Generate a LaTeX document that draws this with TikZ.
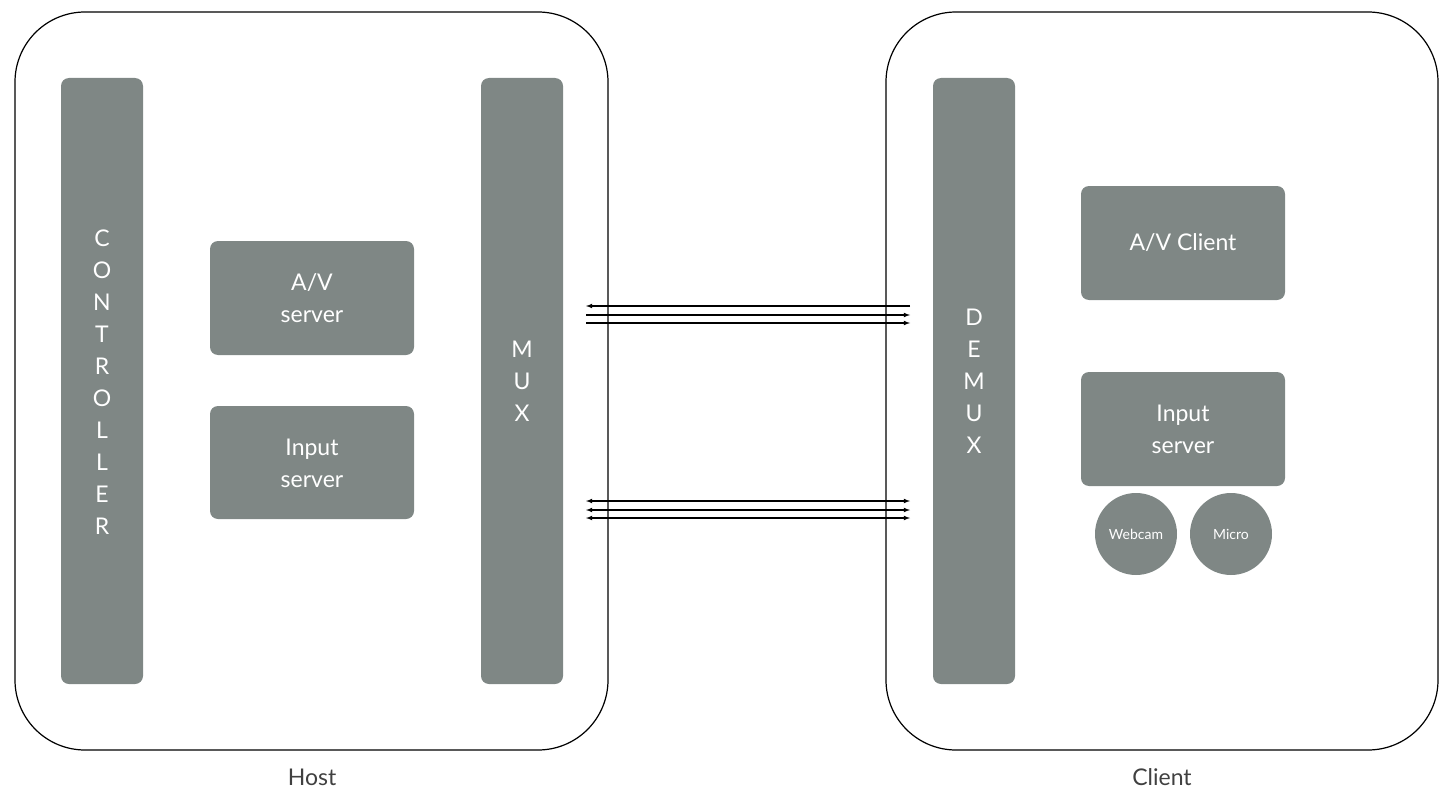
\documentclass[tikz,border=0pt]{standalone}
\usepackage{fontspec}
\setmainfont{Lato}
\begin{document}
\begin{tikzpicture}[x=1pt,y=-1pt,
  cont/.style={draw=black,line width=1.2pt,rounded corners=70pt},
  blk/.style={fill=gbox,draw=none,rounded corners=8pt},
  lbl/.style={text=white,font=\fontsize{23}{32}\selectfont,align=center},
  arr/.style={line width=1.1pt,-latex}]
\definecolor{gbox}{HTML}{7F8785}
\useasboundingbox (0,0) rectangle (1452,800);
\draw[cont] (15,12) rectangle (608,750);
\draw[cont] (886,12) rectangle (1438,750);
\fill[blk] (61,78) rectangle (143,684);
\fill[blk] (481,78) rectangle (563,684);
\fill[blk] (933,78) rectangle (1015,684);
\fill[blk] (210,241) rectangle (414,355);
\fill[blk] (210,406) rectangle (414,519);
\fill[blk] (1081,186) rectangle (1285,300);
\fill[blk] (1081,372) rectangle (1285,486);
\node[fill=gbox,circle,minimum size=82pt,inner sep=0pt,text=white,font=\fontsize{14}{16}\selectfont] (webcam) at (1136,534) {Webcam};
\node[fill=gbox,circle,minimum size=82pt,inner sep=0pt,text=white,font=\fontsize{14}{16}\selectfont] (micro) at (1231,534) {Micro};
\node[lbl] (ctrl) at (102,382) {C\\O\\N\\T\\R\\O\\L\\L\\E\\R};
\node[lbl] (mux) at (522,381) {M\\U\\X};
\node[lbl] (demux) at (974,381) {D\\E\\M\\U\\X};
\node[lbl] (avs) at (312,298) {A/V\\server};
\node[lbl] (ins) at (312,463) {Input\\server};
\node[lbl] (avc) at (1183,243) {A/V Client};
\node[lbl] (inc) at (1183,429) {Input\\server};
\node[font=\fontsize{23}{28}\selectfont,text=black!75] (host) at (312,777) {Host};
\node[font=\fontsize{23}{28}\selectfont,text=black!75] (client) at (1162,777) {Client};
\coordinate (l1) at (586,306); \coordinate (r1) at (910,306);
\coordinate (l2) at (586,315); \coordinate (r2) at (910,315);
\coordinate (l3) at (586,323); \coordinate (r3) at (910,323);
\draw[arr] (r1) -- (l1);
\draw[arr] (l2) -- (r2);
\draw[arr] (l3) -- (r3);
\coordinate (l4) at (586,501); \coordinate (r4) at (910,501);
\coordinate (l5) at (586,510); \coordinate (r5) at (910,510);
\coordinate (l6) at (586,518); \coordinate (r6) at (910,518);
\draw[arr,latex-latex] (l4) -- (r4);
\draw[arr,latex-latex] (l5) -- (r5);
\draw[arr,latex-latex] (l6) -- (r6);
\end{tikzpicture}
\end{document}
